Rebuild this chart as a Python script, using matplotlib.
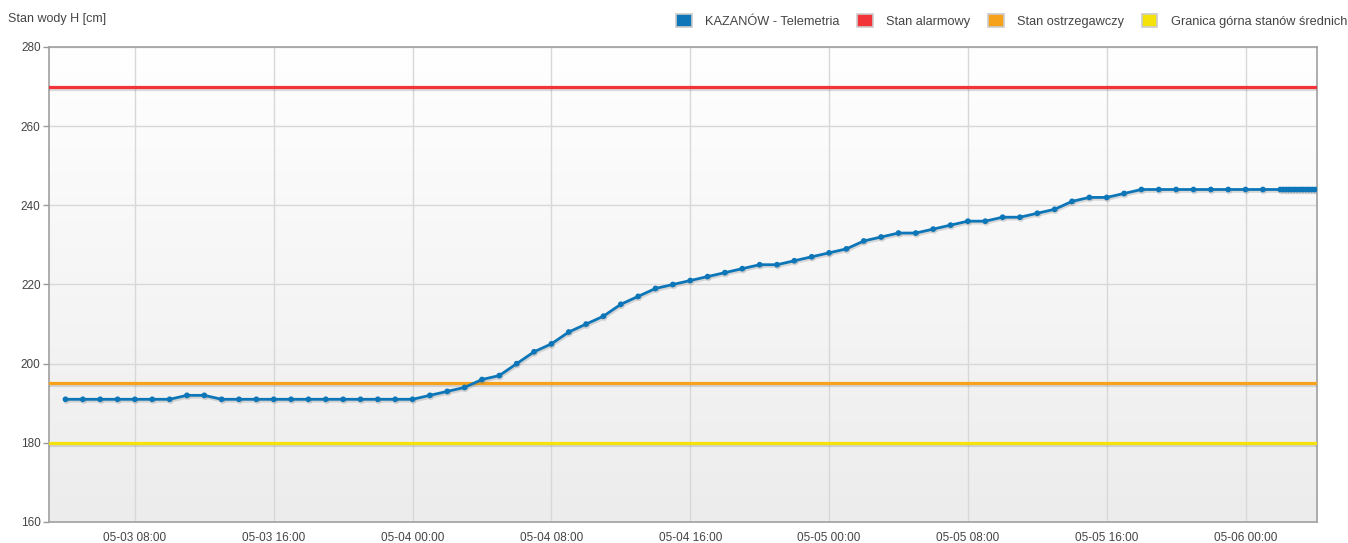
import numpy as np
import pandas as pd
import matplotlib
matplotlib.use("Agg")
import matplotlib.pyplot as plt
import matplotlib.dates as mdates
import matplotlib.patheffects as pe
from matplotlib.patches import Patch

plt.rcParams['font.family'] = ['Liberation Sans', 'DejaVu Sans']

# stan wody KAZANÓW - pomiary godzinowe od 05-03 04:00 do 05-06 01:00
HOURLY_START = "2025-05-03 04:00"
hourly_levels = [
    191, 191, 191, 191, 191, 191, 191, 192, 192, 191,  # 05-03 04..13
    191, 191, 191, 191, 191, 191, 191, 191, 191, 191,  # 14..23
    191, 192, 193, 194, 196, 197, 200, 203, 205, 208,  # 05-04 00..09
    210, 212, 215, 217, 219, 220, 221, 222, 223, 224,  # 10..19
    225, 225, 226, 227,                                # 20..23
    228, 229, 231, 232, 233, 233, 234, 235, 236, 236,  # 05-05 00..09
    237, 237, 238, 239, 241, 242, 242, 243, 244, 244,  # 10..19
    244, 244, 244, 244,                                # 20..23
    244, 244,                                          # 05-06 00..01
]
# pomiary co 10 minut od 05-06 02:00
DENSE_START = "2025-05-06 02:00"
dense_levels = [244, 244, 244, 244, 244, 244, 244, 244, 244, 244, 244, 244, 244]

# stany charakterystyczne
stan_alarmowy = 270
stan_ostrzegawczy = 195
granica_srednich = 180

series_label = "KAZANÓW - Telemetria"
level_labels = ["Stan alarmowy", "Stan ostrzegawczy", "Granica górna stanów średnich"]

y_ticks = [160, 180, 200, 220, 240, 260, 280]

t_hourly = pd.date_range(HOURLY_START, periods=len(hourly_levels), freq="h")
t_dense = pd.date_range(DENSE_START, periods=len(dense_levels), freq="10min")
times = t_hourly.append(t_dense)
levels = hourly_levels + dense_levels

BLUE = '#0d76b8'
RED = '#f2333a'
ORANGE = '#f7a21b'
YELLOW = '#f5e20a'
TXT = '#444444'

fig = plt.figure(figsize=(13.48, 5.43), dpi=100)
ax = fig.add_axes([49 / 1348, 21 / 543, 1268 / 1348, 475 / 543])

x0 = pd.Timestamp("2025-05-03 03:03")
x1 = pd.Timestamp("2025-05-06 04:07")
ax.set_xlim(x0, x1)
ax.set_ylim(160, 280)

# tlo z gradientem
grad = np.linspace(1, 0, 256).reshape(-1, 1)
ax.imshow(grad, extent=[mdates.date2num(x0), mdates.date2num(x1), 160, 280],
          aspect='auto', cmap=matplotlib.colors.LinearSegmentedColormap.from_list(
              'bg', ['#ececec', '#ffffff']), zorder=0, origin='upper')

ax.grid(True, color='#d8d8d8', linewidth=1.0, zorder=1)
ax.set_axisbelow(True)

shadow = [pe.SimpleLineShadow(offset=(0.6, -1.4), shadow_color='#777777', alpha=0.25),
          pe.Normal()]

for val, col in [(stan_alarmowy, RED), (stan_ostrzegawczy, ORANGE), (granica_srednich, YELLOW)]:
    ax.axhline(val, color=col, linewidth=2.3, zorder=3, path_effects=shadow)

ax.plot(times, levels, color=BLUE, linewidth=2.0, marker='o', markersize=3.1,
        zorder=4, path_effects=shadow, clip_on=True)

ax.set_yticks(y_ticks)
ax.xaxis.set_major_locator(mdates.HourLocator(byhour=[0, 8, 16]))
ax.xaxis.set_major_formatter(mdates.DateFormatter('%m-%d %H:%M'))
ax.tick_params(axis='x', length=0, pad=7, labelsize=8.5, labelcolor=TXT)
ax.tick_params(axis='y', length=4, width=1, color='#999999', pad=2,
               labelsize=8.5, labelcolor=TXT)

for sp in ax.spines.values():
    sp.set_color('#a0a0a0')
    sp.set_linewidth(1.2)

fig.text(8 / 1348, 1 - 19 / 543, "Stan wody H [cm]", fontsize=9,
         color=TXT, va='center', ha='left')

handles = [Patch(facecolor=c, edgecolor='#cccccc', linewidth=1.2)
           for c in [BLUE, RED, ORANGE, YELLOW]]
labels = [series_label] + level_labels
fig.legend(handles, labels, loc='upper right', bbox_to_anchor=(1347 / 1348, 1 - 14 / 543),
           ncol=4, frameon=False, fontsize=9.2, handlelength=1.2, handleheight=1.2,
           handletextpad=1.05, columnspacing=1.4, borderaxespad=0, borderpad=0,
           labelcolor=TXT)

fig.savefig("out.png", dpi=100)
